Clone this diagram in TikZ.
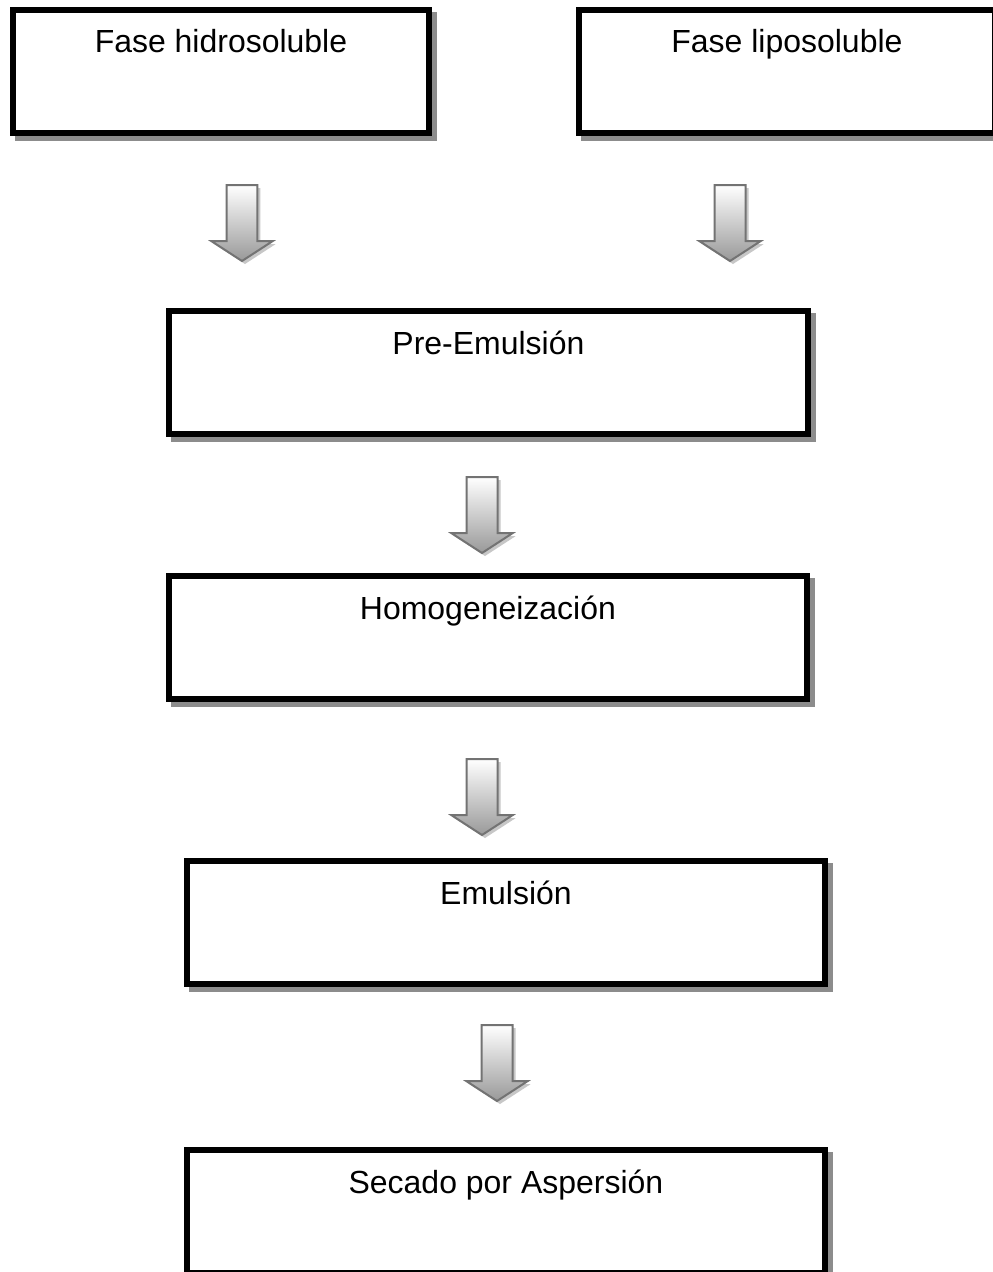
\documentclass[tikz,border=0pt]{standalone}
\usepackage{fontspec}
\setmainfont{Liberation Sans}
\usepackage{tikz}
\usetikzlibrary{shadows}
\usetikzlibrary{shapes.arrows}
\tikzset{stage/.style={draw, line width=0.12cm, fill=white, inner sep=0, outer sep=0,
    anchor=north west, minimum height=2.46cm, text height=0.86cm, text depth=1.6cm,
    font=\fontsize{18.2pt}{22pt}\selectfont,
    drop shadow={shadow xshift=0.1cm, shadow yshift=-0.1cm, fill=black!45, draw=black!45, line width=0.12cm, opacity=1}}}
\tikzset{down arrow/.style={single arrow, shape border rotate=270, draw=black!55, line width=0.04cm,
    inner sep=0.29cm, outer sep=0, anchor=tip, minimum height=1.52cm, minimum width=1.18cm,
    single arrow head extend=0.3cm, single arrow tip angle=114,
    single arrow head indent=0, top color=white, bottom color=black!40,
    drop shadow={shadow xshift=0.06cm, shadow yshift=-0.06cm, fill=black!22, opacity=1}}}

\begin{document}
\begin{tikzpicture}[x=0.02cm, y=-0.02cm]
  \useasboundingbox[fill=white] (0, 0) rectangle (992, 1272);

  % the two phases
  \node[stage, minimum width=8.32cm] at (13, 10) (hidro) {Fase hidrosoluble};
  \node[stage, minimum width=8.32cm] at (579, 10) (lipo) {Fase liposoluble};
  \node[down arrow] at (242, 261) (hidroarrow) {};
  \node[down arrow] at (730, 261) (lipoarrow) {};

  % process chain
  \node[stage, minimum width=12.78cm] at (169, 311) (preemul) {Pre-Emulsión};
  \node[down arrow] at (482, 553) (preemularrow) {};
  \node[stage, minimum width=12.76cm] at (169, 576) (homog) {Homogeneización};
  \node[down arrow] at (482, 835) (homogarrow) {};
  \node[stage, minimum width=12.76cm] at (187, 861) (emul) {Emulsión};
  \node[down arrow] at (497, 1101) (emularrow) {};
  \node[stage, minimum width=12.76cm] at (187, 1150) (secado) {Secado por Aspersión};
\end{tikzpicture}
\end{document}
